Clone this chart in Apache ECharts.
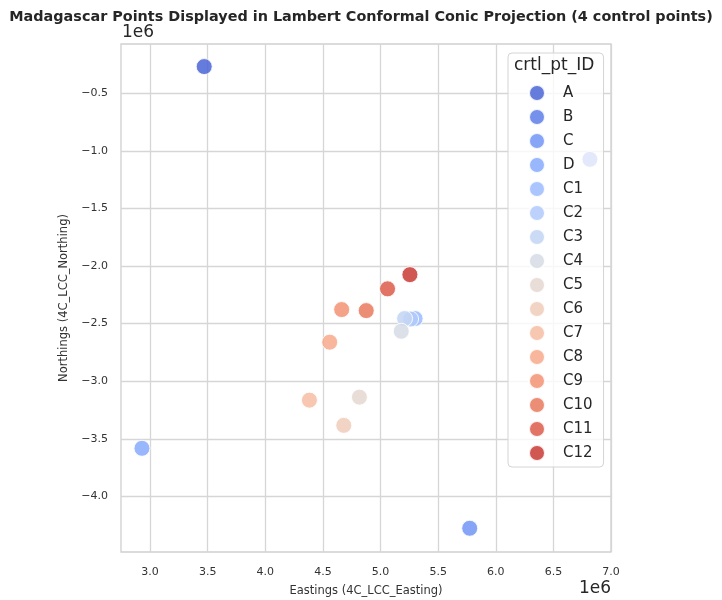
<!DOCTYPE html>
<html>
<head>
<meta charset="utf-8">
<title>Madagascar Points – LCC</title>
<script src="https://cdn.jsdelivr.net/npm/echarts@6/dist/echarts.min.js"></script>
<style>
  html, body { margin: 0; padding: 0; background: #fff; }
  #chart { width: 722px; height: 600px; }
</style>
</head>
<body>
<div id="chart"></div>
<script>
// Control points and checkpoints in Lambert Conformal Conic (metres)
const pointIds = ['A', 'B', 'C', 'D', 'C1', 'C2', 'C3', 'C4', 'C5', 'C6', 'C7', 'C8', 'C9', 'C10', 'C11', 'C12'];
const eastings = [3470000, 6817000, 5774000, 2930000, 5300000, 5261000, 5209000, 5180000,
                  4817000, 4681000, 4383000, 4559000, 4663000, 4876000, 5061000, 5255000];
const northings = [-269000, -1074000, -4276000, -3582000, -2456000, -2460000, -2456000, -2566000,
                   -3138000, -3383000, -3164000, -2661000, -2378000, -2387000, -2198000, -2075000];
// coolwarm palette, one colour per point id
const pointColors = ['#4c66d6', '#5f7fe8', '#7396f5', '#88abfd', '#9dbdff', '#b1cbfc', '#c4d5f3', '#d5dbe5',
                     '#e5d8d1', '#f0cdbb', '#f6bea4', '#f7aa8c', '#f39475', '#e97a5f', '#dc5d4a', '#ca3b37'];
// Tick positions, in units of 1e6 m
const xTicks = [3.0, 3.5, 4.0, 4.5, 5.0, 5.5, 6.0, 6.5, 7.0];
const yTicks = [-4.0, -3.5, -3.0, -2.5, -2.0, -1.5, -1.0, -0.5];

const FONT = 'DejaVu Sans';
const SCALE = 1e6;
const fmt = v => (v / SCALE).toFixed(1).replace('-', '\u2212');

const chart = echarts.init(document.getElementById('chart'), null, { renderer: 'canvas' });

const series = pointIds.map((id, i) => ({
  type: 'scatter',
  name: id,
  data: [[eastings[i], northings[i]]],
  symbolSize: 16,
  itemStyle: { color: pointColors[i], opacity: 0.86, borderColor: '#ffffff', borderWidth: 1 },
  emphasis: { disabled: true }
}));

const gridLine = { show: true, lineStyle: { color: '#d6d6d6', width: 1.3 } };

chart.setOption({
  animation: false,
  backgroundColor: '#ffffff',
  title: {
    text: 'Madagascar Points Displayed in Lambert Conformal Conic Projection (4 control points)',
    left: 'center',
    top: 5,
    textStyle: { fontFamily: FONT, fontSize: 14.4, fontWeight: 'bold', color: '#262626' }
  },
  grid: {
    left: 121, right: 111, top: 44, bottom: 48,
    outerBoundsMode: 'none',
    containLabel: false,
    show: true, borderColor: '#cfcfcf', borderWidth: 1.3, backgroundColor: '#ffffff'
  },
  xAxis: {
    type: 'value',
    min: 2748000,
    max: 7000000,
    name: 'Eastings (4C_LCC_Easting)',
    nameLocation: 'middle',
    nameGap: 33,
    nameTextStyle: { fontFamily: FONT, fontSize: 11.5, color: '#333' },
    axisLine: { show: false },
    axisTick: { show: false, customValues: xTicks.map(v => v * SCALE) },
    axisLabel: { customValues: xTicks.map(v => v * SCALE), formatter: fmt, fontFamily: FONT, fontSize: 11, color: '#333', margin: 15 },
    splitLine: gridLine
  },
  yAxis: {
    type: 'value',
    min: -4482000,
    max: -73000,
    name: 'Northings (4C_LCC_Northing)',
    nameLocation: 'middle',
    nameGap: 49,
    nameTextStyle: { fontFamily: FONT, fontSize: 11.5, color: '#333' },
    axisLine: { show: false },
    axisTick: { show: false, customValues: yTicks.map(v => v * SCALE) },
    axisLabel: { customValues: yTicks.map(v => v * SCALE), formatter: fmt, fontFamily: FONT, fontSize: 11, color: '#333', margin: 13 },
    splitLine: gridLine
  },
  legend: {
    data: pointIds,
    orient: 'vertical',
    left: 508,
    top: 53,
    padding: [31, 11, 5, 20],
    itemWidth: 16,
    itemHeight: 16,
    itemGap: 6,
    icon: 'circle',
    selectedMode: false,
    backgroundColor: 'rgba(255,255,255,0.8)',
    borderColor: '#d4d4d4',
    borderWidth: 1,
    borderRadius: 4,
    textStyle: { fontFamily: FONT, fontSize: 15, color: '#262626', lineHeight: 16, padding: [0, 0, 0, 13] }
  },
  graphic: [
    { type: 'text', left: 122, top: 24, style: { text: '1e6', font: '17px "DejaVu Sans"', fill: '#262626' } },
    { type: 'text', right: 111, top: 580, style: { text: '1e6', font: '17px "DejaVu Sans"', fill: '#262626' } },
    { type: 'text', left: 514, top: 57, z: 100, style: { text: 'crtl_pt_ID', font: '17px "DejaVu Sans"', fill: '#262626' } }
  ],
  series: series
});
</script>
</body>
</html>
